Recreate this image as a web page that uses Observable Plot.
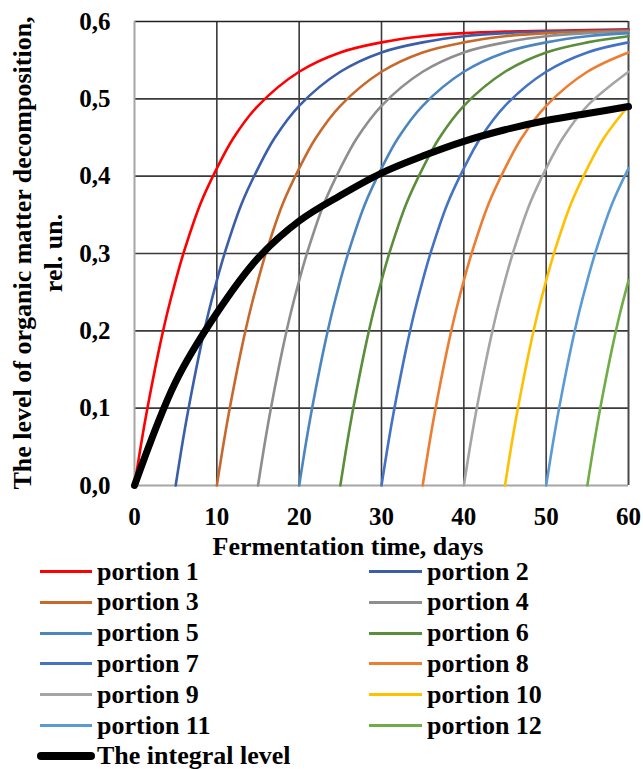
<!DOCTYPE html>
<html><head><meta charset="utf-8">
<script src="https://cdn.jsdelivr.net/npm/d3@7"></script>
<script src="https://cdn.jsdelivr.net/npm/@observablehq/plot@0.6"></script>
<style>
body{margin:0;background:#fff;overflow:hidden;font-family:"Liberation Serif","Times New Roman",serif;}
#legend{position:relative;width:643px;height:213px;font-weight:bold;font-size:26px;color:#000;}
.sw{position:absolute;height:3px;}
.lab{position:absolute;height:24px;line-height:24px;white-space:nowrap;}
</style></head><body><div id="chart"></div><div id="legend"></div>
<script>
const portionNames = ["portion 1","portion 2","portion 3","portion 4","portion 5","portion 6","portion 7","portion 8","portion 9","portion 10","portion 11","portion 12"];
const portionColors = ["#FF0000","#3A5FA8","#C8692C","#8E8E8E","#4C86BF","#5B8E3A","#4472C4","#ED7D31","#A5A5A5","#FFC000","#5B9BD5","#70AD47"];
const integralName = "The integral level";
const xTitle = "Fermentation time, days";
const yTitleLines = ["The level of organic matter decomposition,", "rel. un."];
const xTicks = [0,10,20,30,40,50,60];
const yTicks = [0,0.1,0.2,0.3,0.4,0.5,0.6];

// [day, level]
const portion1 = [[0,0],[1,0.066],[2,0.124],[3,0.177],[4,0.224],[5,0.265],[6,0.302],[8,0.364],[10,0.410],[12,0.449],[15,0.491],[20,0.535],[25,0.560],[30,0.573],[35,0.581],[40,0.585],[45,0.587],[50,0.588],[55,0.589],[60,0.590]];
const portion2 = [[5,0],[6,0.066],[7,0.124],[8,0.177],[9,0.224],[10,0.265],[11,0.302],[13,0.364],[15,0.410],[17,0.449],[20,0.491],[25,0.535],[30,0.560],[35,0.573],[40,0.581],[45,0.585],[50,0.587],[55,0.588],[60,0.589]];
const portion3 = [[10,0],[11,0.066],[12,0.124],[13,0.177],[14,0.224],[15,0.265],[16,0.302],[18,0.364],[20,0.410],[22,0.449],[25,0.491],[30,0.535],[35,0.560],[40,0.573],[45,0.581],[50,0.585],[55,0.587],[60,0.588]];
const portion4 = [[15,0],[16,0.066],[17,0.124],[18,0.177],[19,0.224],[20,0.265],[21,0.302],[23,0.364],[25,0.410],[27,0.449],[30,0.491],[35,0.535],[40,0.560],[45,0.573],[50,0.581],[55,0.585],[60,0.587]];
const portion5 = [[20,0],[21,0.066],[22,0.124],[23,0.177],[24,0.224],[25,0.265],[26,0.302],[28,0.364],[30,0.410],[32,0.449],[35,0.491],[40,0.535],[45,0.560],[50,0.573],[55,0.581],[60,0.585]];
const portion6 = [[25,0],[26,0.066],[27,0.124],[28,0.177],[29,0.224],[30,0.265],[31,0.302],[33,0.364],[35,0.410],[37,0.449],[40,0.491],[45,0.535],[50,0.560],[55,0.573],[60,0.581]];
const portion7 = [[30,0],[31,0.066],[32,0.124],[33,0.177],[34,0.224],[35,0.265],[36,0.302],[38,0.364],[40,0.410],[42,0.449],[45,0.491],[50,0.535],[55,0.560],[60,0.573]];
const portion8 = [[35,0],[36,0.066],[37,0.124],[38,0.177],[39,0.224],[40,0.265],[41,0.302],[43,0.364],[45,0.410],[47,0.449],[50,0.491],[55,0.535],[60,0.560]];
const portion9 = [[40,0],[41,0.066],[42,0.124],[43,0.177],[44,0.224],[45,0.265],[46,0.302],[48,0.364],[50,0.410],[52,0.449],[55,0.491],[60,0.535]];
const portion10 = [[45,0],[46,0.066],[47,0.124],[48,0.177],[49,0.224],[50,0.265],[51,0.302],[53,0.364],[55,0.410],[57,0.449],[60,0.491]];
const portion11 = [[50,0],[51,0.066],[52,0.124],[53,0.177],[54,0.224],[55,0.265],[56,0.302],[58,0.364],[60,0.410]];
const portion12 = [[55,0],[56,0.066],[57,0.124],[58,0.177],[59,0.224],[60,0.265]];
const integralLevel = [[0,0],[5,0.134],[10,0.223],[15,0.294],[20,0.342],[25,0.375],[30,0.404],[35,0.426],[40,0.445],[45,0.460],[50,0.472],[55,0.481],[60,0.490]];

const portions = [portion1,portion2,portion3,portion4,portion5,portion6,portion7,portion8,portion9,portion10,portion11,portion12];
const fx = d => d[0], fy = d => d[1];
const gridStyle = {stroke:"#3a3a3a", strokeOpacity:1, strokeWidth:1.6};

const plot = Plot.plot({
  width: 643, height: 556,
  marginLeft: 134, marginRight: 15, marginTop: 21, marginBottom: 71,
  x: {domain: [0, 60]},
  y: {domain: [0, 0.6]},
  style: {fontFamily: "'Liberation Serif', 'Times New Roman', serif", fontSize: "25px", fontWeight: "bold", color: "#000", background: "#fff", overflow: "visible"},
  marks: [
    Plot.gridX(xTicks.slice(1, -1), gridStyle),
    Plot.gridY(yTicks.slice(1, -1), gridStyle),
    Plot.ruleX([60], {stroke:"#4a4a4a", strokeWidth:2}),
    Plot.ruleY([0.6], {stroke:"#222", strokeWidth:1.6}),
    Plot.ruleX([0], {stroke:"#A6A6A6", strokeWidth:2}),
    Plot.ruleY([0], {stroke:"#A6A6A6", strokeWidth:2}),
    ...portions.map((p, i) => Plot.line(p, {x: fx, y: fy, stroke: portionColors[i], strokeWidth: 2.6, curve: "catmull-rom"})),
    Plot.line(integralLevel, {x: fx, y: fy, stroke: "#000", strokeWidth: 7, strokeLinecap: "round", curve: "catmull-rom"}),
    Plot.axisX(xTicks, {tickSize: 0, tickPadding: 22, fontSize: 25, fontWeight: "bold", label: null}),
    Plot.axisY(yTicks, {tickSize: 0, tickPadding: 24, fontSize: 25, fontWeight: "bold", label: null, tickFormat: d => d.toFixed(1).replace(".", ",")})
  ]
});
document.getElementById("chart").appendChild(plot);

const svg = d3.select(plot);
svg.append("text").attr("x", 348).attr("y", 555).attr("text-anchor", "middle")
  .attr("font-size", 26).attr("font-weight", "bold").attr("fill", "#000").text(xTitle);
yTitleLines.forEach((t, i) => {
  svg.append("text").attr("transform", `translate(${31 + 31 * i},253) rotate(-90)`)
    .attr("text-anchor", "middle").attr("font-size", 26).attr("font-weight", "bold").attr("fill", "#000").text(t);
});

// legend
const legend = d3.select("#legend");
const rowH = 30.8;
portionNames.forEach((name, i) => {
  const row = Math.floor(i / 2), col = i % 2;
  const lineLeft = col ? 369 : 40, lineW = col ? 53 : 52, textLeft = col ? 427 : 97;
  legend.append("div").attr("class", "sw")
    .style("left", lineLeft + "px").style("width", lineW + "px")
    .style("top", (row * rowH + 14) + "px").style("background", portionColors[i]);
  legend.append("div").attr("class", "lab")
    .style("left", textLeft + "px").style("top", (row * rowH + 3.5) + "px").text(name);
});
legend.append("div").attr("class", "sw")
  .style("left", "37px").style("width", "58px").style("height", "8px").style("border-radius", "4px")
  .style("top", (6 * rowH + 11.5) + "px").style("background", "#000");
legend.append("div").attr("class", "lab")
  .style("left", "97px").style("top", (6 * rowH + 3.5) + "px").text(integralName);
</script>
</body></html>
